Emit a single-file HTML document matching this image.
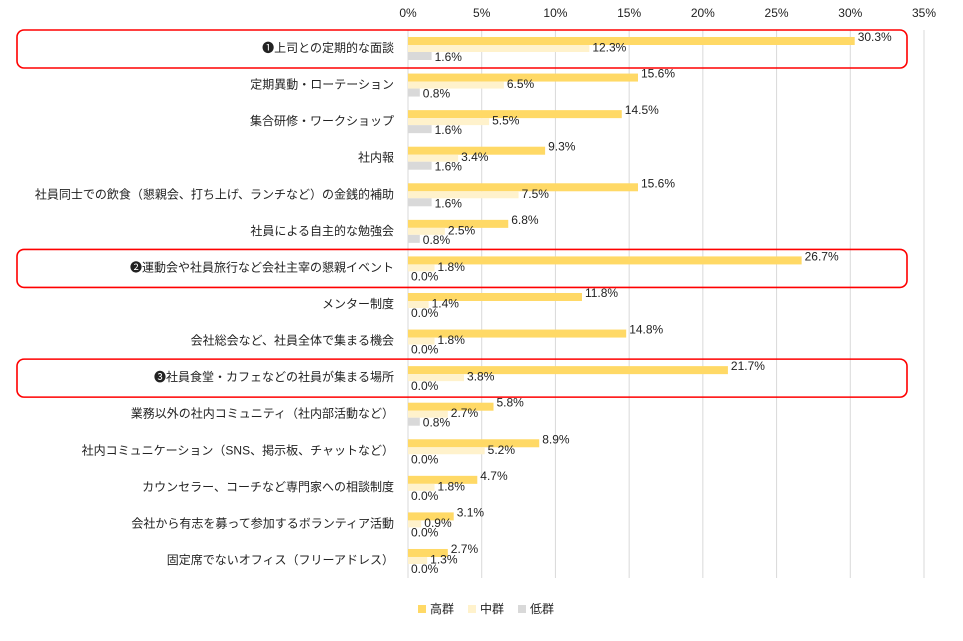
<!DOCTYPE html>
<html><head><meta charset="utf-8"><style>
body{margin:0;background:#fff;}
svg text{font-family:"Liberation Sans","Noto Sans CJK JP",sans-serif;font-size:12px;fill:#222;}
</style></head><body>
<svg id="chart" width="963" height="636" viewBox="0 0 963 636" xmlns="http://www.w3.org/2000/svg"></svg>
<script>
const categories=["❶上司との定期的な面談","定期異動・ローテーション","集合研修・ワークショップ","社内報","社員同士での飲食（懇親会、打ち上げ、ランチなど）の金銭的補助","社員による自主的な勉強会","❷運動会や社員旅行など会社主宰の懇親イベント","メンター制度","会社総会など、社員全体で集まる機会","❸社員食堂・カフェなどの社員が集まる場所","業務以外の社内コミュニティ（社内部活動など）","社内コミュニケーション（SNS、掲示板、チャットなど）","カウンセラー、コーチなど専門家への相談制度","会社から有志を募って参加するボランティア活動","固定席でないオフィス（フリーアドレス）"];
const highValues=[30.3,15.6,14.5,9.3,15.6,6.8,26.7,11.8,14.8,21.7,5.8,8.9,4.7,3.1,2.7];
const midValues=[12.3,6.5,5.5,3.4,7.5,2.5,1.8,1.4,1.8,3.8,2.7,5.2,1.8,0.9,1.3];
const lowValues=[1.6,0.8,1.6,1.6,1.6,0.8,0.0,0.0,0.0,0.0,0.8,0.0,0.0,0.0,0.0];
const tickValues=[0,5,10,15,20,25,30,35];
const highlighted=[0,6,9];
const seriesNames=["高群","中群","低群"];
const svg=document.getElementById('chart');
const NS='http://www.w3.org/2000/svg';
const x0=408,pxPer=516/35,rowTop=48,rowStep=36.57;
const xs=v=>x0+v*pxPer;
const yc=i=>rowTop+i*rowStep;
function mk(tag,attrs,txt){const e=document.createElementNS(NS,tag);for(const k in attrs)e.setAttribute(k,attrs[k]);if(txt!==undefined)e.textContent=txt;svg.appendChild(e);return e;}
tickValues.forEach(t=>{
 const l=mk('line',{x1:xs(t),x2:xs(t),y1:30,y2:578,stroke:'#d9d9d9','stroke-width':1});
 
 
 const tx=mk('text',{x:xs(t),y:17,'text-anchor':'middle','font-size':'13'},t+'%');
 
 
});
const colors=['#ffd966','#fff2cc','#d9d9d9'];
const series=[highValues,midValues,lowValues];
const offs=[-11,-3,4];
categories.forEach((c,i)=>{
 const t=mk('text',{x:394,y:yc(i)+4,'text-anchor':'end'},c);
 
 
 series.forEach((s,k)=>{
  const h=k==1?7:8;
  const r=mk('rect',{x:x0,y:yc(i)+offs[k],width:Math.max(0,xs(s[i])-x0),height:h,fill:colors[k]});
  
  
  const v=mk('text',{x:xs(s[i])+3,y:yc(i)+offs[k]+h/2+1+ (k==0?-1:k==1?2:4)},s[i].toFixed(1)+'%');
  
  
 });
});
highlighted.forEach(i=>{
 const r=mk('rect',{x:17,y:yc(i)-18,width:890,height:38,rx:7,fill:'none',stroke:'#ff0000','stroke-width':1.6});
 
 
});
seriesNames.forEach((n,k)=>{
 const lx=418+k*50;
 const r=mk('rect',{x:lx,y:605,width:8,height:8,fill:colors[k]});
 
 
 const t=mk('text',{x:lx+12,y:613},n);
 
 
});
</script>
</body></html>
